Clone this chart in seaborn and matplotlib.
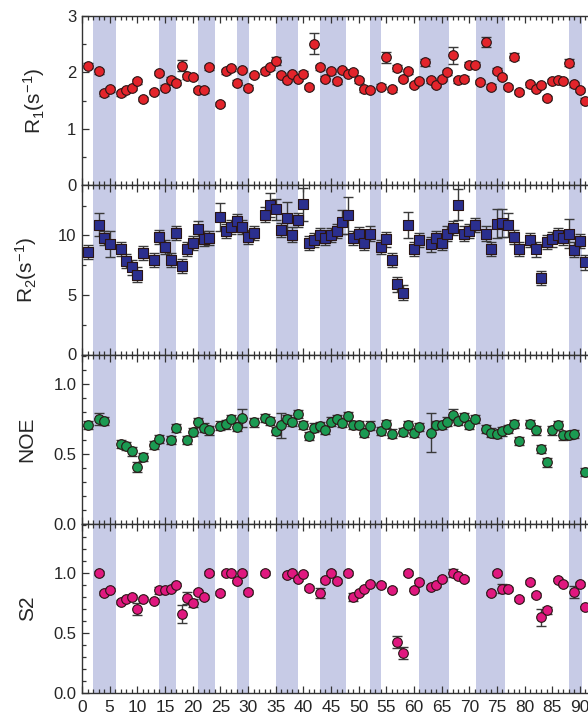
import matplotlib
matplotlib.use('Agg')
import matplotlib.pyplot as plt
import seaborn as sns
import pandas as pd
from matplotlib.ticker import MultipleLocator, FormatStrFormatter

# ---------------- data ----------------
bands = [(2, 6.2), (14, 17), (21, 24), (28, 30.2), (35, 39), (43, 47.8),
         (52, 54), (61, 66.3), (71.2, 76.4), (88, 90.4)]

r1_res = [1,3,4,5,7,8,9,10,11,13,14,15,16,17,18,19,20,21,22,23,25,26,27,28,29,30,31,
          33,34,35,36,37,38,39,40,41,42,43,44,45,46,47,48,49,50,51,52,54,55,56,57,58,
          59,60,61,62,63,64,65,66,67,68,69,70,71,72,73,74,75,76,77,78,79,81,82,83,84,
          85,86,87,88,89,90,91]
r1_val = [2.12,2.02,1.63,1.70,1.63,1.69,1.72,1.84,1.53,1.65,
          1.99,1.73,1.87,1.82,2.12,1.93,1.92,1.69,1.68,2.09,
          1.44,2.02,2.07,1.82,2.04,1.73,1.95,
          2.02,2.09,2.21,1.95,1.87,1.97,1.88,1.98,1.74,2.51,
          2.09,1.89,2.02,1.84,2.04,1.98,2.00,1.86,1.70,1.69,
          1.75,2.27,1.70,2.08,1.88,2.02,1.78,1.85,2.18,1.86,
          1.78,1.88,2.00,2.30,1.86,1.89,2.14,2.14,1.83,2.54,
          1.75,2.03,1.92,1.74,2.28,1.65,
          1.79,1.71,1.78,1.55,1.85,1.86,1.85,2.17,1.79,1.69,1.50]
r1_err_default = 0.04
r1_err_big = {18: 0.10, 35: 0.07, 42: 0.18, 55: 0.10, 62: 0.06, 67: 0.15, 73: 0.09,
              78: 0.06, 88: 0.06, 57: 0.06}

r2_res = [1,3,4,5,7,8,9,10,11,13,14,15,16,17,18,19,20,21,22,23,25,26,27,28,29,30,31,
          33,34,35,36,37,38,39,40,41,42,43,44,45,46,47,48,49,50,51,52,54,55,56,57,58,
          59,60,61,63,64,65,66,67,68,69,70,71,73,74,75,76,77,78,79,81,82,83,84,85,86,
          87,88,89,90,91]
r2_val = [8.6,10.9,9.8,9.3,8.85,7.85,7.3,6.7,8.5,7.9,
          9.86,9.0,7.9,10.2,7.4,8.85,9.36,10.56,9.72,9.8,
          11.54,10.34,10.7,11.18,10.7,9.86,10.2,
          11.74,12.52,12.18,10.42,11.48,10.06,11.26,12.6,9.36,9.6,
          10.0,9.8,10.0,10.36,11.1,11.68,9.78,10.08,9.38,10.14,
          9.02,9.66,7.9,5.88,5.2,10.87,8.88,9.58,
          9.24,9.75,9.38,10.14,10.59,12.58,10.14,10.36,10.84,
          10.14,8.85,10.98,11.04,10.87,9.86,8.88,
          9.58,8.82,6.44,9.41,9.66,10.0,9.8,10.14,8.8,9.52,7.73]
r2_err_default = 0.6
r2_err_big = {3: 0.95, 5: 1.1, 25: 1.2, 34: 1.0, 35: 0.9, 37: 1.3, 40: 1.4, 48: 1.55,
              59: 1.1, 68: 1.3, 75: 1.2, 76: 1.2, 77: 1.0, 88: 1.2, 47: 1.0}

noe_res = [1,3,4,7,8,9,10,11,13,14,16,17,19,20,21,22,23,25,26,27,28,29,31,33,34,35,36,
           37,38,39,40,41,42,43,44,45,46,47,48,49,50,51,52,54,55,56,58,59,60,61,63,64,
           65,66,67,68,69,70,71,73,74,75,76,77,78,79,81,82,83,84,85,86,87,88,89,91]
noe_val = [0.707,0.75,0.733,0.569,0.555,0.517,0.407,0.476,0.564,0.605,
           0.60,0.683,0.60,0.655,0.724,0.688,0.667,0.702,0.71,0.748,
           0.695,0.755,0.724,0.755,0.736,0.664,0.705,0.75,0.726,0.786,
           0.707,0.629,0.688,0.70,0.671,0.731,0.748,0.719,0.767,0.707,
           0.707,0.652,0.702,0.662,0.714,0.645,0.655,0.707,0.648,0.69,
           0.65,0.707,0.707,0.731,0.779,0.738,0.76,0.707,0.748,
           0.679,0.652,0.643,0.66,0.676,0.714,0.593,
           0.712,0.667,0.536,0.438,0.667,0.707,0.631,0.633,0.64,0.369]
noe_err_default = 0.03
noe_err_big = {3: 0.045, 29: 0.065, 36: 0.09, 63: 0.14, 10: 0.035, 67: 0.04}

s2_res = [3,4,5,7,8,9,10,11,13,14,15,16,17,18,19,20,21,22,23,25,26,27,28,29,30,33,37,
          38,39,40,41,43,44,45,46,48,49,50,51,52,54,56,57,58,59,60,61,63,64,65,67,68,
          69,74,75,76,77,79,81,82,83,84,86,87,89,90,91]
s2_val = [1.0,0.834,0.862,0.76,0.782,0.80,0.696,0.785,0.77,0.856,
          0.856,0.865,0.903,0.655,0.793,0.749,0.843,0.798,1.0,0.831,
          1.0,1.0,0.93,1.0,0.84,1.0,0.98,1.0,0.948,0.995,
          0.873,0.834,0.939,1.0,0.934,1.0,0.80,0.829,0.87,0.912,
          0.898,0.862,0.428,0.337,1.0,0.862,0.928,0.884,0.898,0.948,
          1.0,0.972,0.948,0.829,1.0,0.87,0.867,0.785,0.925,0.815,
          0.63,0.69,0.945,0.906,0.843,0.906,0.713]
s2_err_default = 0.015
s2_err_big = {10: 0.05, 14: 0.03, 18: 0.075, 19: 0.05, 20: 0.03, 43: 0.04, 49: 0.03,
              57: 0.05, 58: 0.05, 67: 0.03, 76: 0.04, 83: 0.07, 89: 0.05, 84: 0.03}

panels = [
    dict(res=r1_res, val=r1_val, d=r1_err_default, big=r1_err_big, color='#e3242b',
         marker='o', ylim=(0, 3.0), major=1, minor=0.5, fmt='%d',
         label='R$_1$(s$^{-1}$)', lx=-0.068),
    dict(res=r2_res, val=r2_val, d=r2_err_default, big=r2_err_big, color='#2b2f8e',
         marker='s', ylim=(0, 14.2), major=5, minor=2.5, fmt='%d',
         label='R$_2$(s$^{-1}$)', lx=-0.085),
    dict(res=noe_res, val=noe_val, d=noe_err_default, big=noe_err_big, color='#1b9a52',
         marker='o', ylim=(0, 1.21), major=0.5, minor=0.1, fmt='%.1f',
         label='NOE', lx=-0.09),
    dict(res=s2_res, val=s2_val, d=s2_err_default, big=s2_err_big, color='#e0187f',
         marker='o', ylim=(0, 1.41), major=0.5, minor=0.1, fmt='%.1f',
         label='S2', lx=-0.088),
]

# ---------------- plot ----------------
sns.set_theme(style='ticks')
plt.rcParams['font.family'] = ['Liberation Sans', 'DejaVu Sans']
plt.rcParams['mathtext.default'] = 'regular'

fig = plt.figure(figsize=(5.88, 7.2), dpi=100)
left = 82 / 588
right = 591 / 588
top = 1 - 16 / 720
bottom = 1 - 693 / 720
h = (top - bottom) / 4

band_color = '#c7cbe6'
for i, p in enumerate(panels):
    ax = fig.add_axes([left, top - (i + 1) * h, right - left, h])
    for a, b in bands:
        ax.axvspan(a, b, color=band_color, lw=0, zorder=0)
    df = pd.DataFrame({'res': p['res'], 'val': p['val']})
    df['err'] = [p['big'].get(r, p['d']) for r in p['res']]
    ax.errorbar(df['res'], df['val'], yerr=df['err'], fmt='none', ecolor='#3a3a3a',
                elinewidth=1.0, capsize=3.6, capthick=1.0, zorder=2)
    sns.scatterplot(data=df, x='res', y='val', ax=ax, marker=p['marker'],
                    color=p['color'], s=48, edgecolor='#2a1515', linewidth=0.8,
                    zorder=3, legend=False)
    ax.set_xlim(0, 92)
    ax.set_ylim(*p['ylim'])
    ax.xaxis.set_major_locator(MultipleLocator(5))
    ax.xaxis.set_minor_locator(MultipleLocator(1))
    ax.yaxis.set_major_locator(MultipleLocator(p['major']))
    ax.yaxis.set_minor_locator(MultipleLocator(p['minor']))
    ax.yaxis.set_major_formatter(FormatStrFormatter(p['fmt']))
    ax.tick_params(axis='x', which='both', direction='in', top=True, bottom=True,
                   color='#333333', width=0.9)
    ax.tick_params(axis='x', which='major', length=5, labelsize=12.5, pad=5)
    ax.tick_params(axis='x', which='minor', length=2.8)
    ax.tick_params(axis='y', which='both', direction='in', left=True, right=False,
                   color='#333333', width=0.9)
    ax.tick_params(axis='y', which='major', length=5, labelsize=12, pad=4)
    ax.tick_params(axis='y', which='minor', length=3)
    if i < 3:
        ax.tick_params(axis='x', labelbottom=False)
    ax.set_xlabel('')
    ax.set_ylabel(p['label'], fontsize=15)
    ax.yaxis.set_label_coords(p['lx'], 0.5)
    for s in ['left', 'top', 'bottom']:
        ax.spines[s].set_color('#333333')
        ax.spines[s].set_linewidth(1.0)
    ax.spines['right'].set_visible(False)
    ax.set_facecolor('white')

fig.savefig('out.png', dpi=100, facecolor='white')
